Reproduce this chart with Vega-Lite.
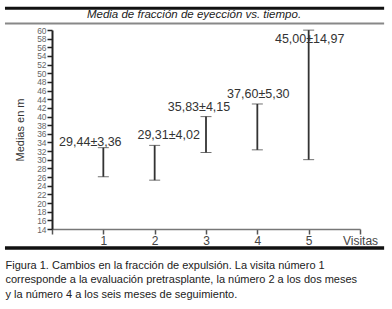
{
  "$schema": "https://vega.github.io/schema/vega-lite/v6.json",
  "width": 308,
  "height": 199,
  "autosize": "none",
  "padding": {"left": 52, "top": 30, "right": 32, "bottom": 80},
  "background": "white",
  "config": {
    "view": {"stroke": null},
    "font": "Liberation Sans",
    "axis": {"labelOverlap": false, "labelBound": false, "labelFlush": false}
  },
  "title": {
    "text": "Media de fracción de eyección vs. tiempo.",
    "font": "Liberation Sans",
    "fontSize": 11.5,
    "fontStyle": "italic",
    "fontWeight": "normal",
    "color": "#222",
    "anchor": "middle",
    "dx": -12,
    "offset": -13.5
  },
  "data": {
    "values": [
      {"visit": 1, "mean": 29.44, "sd": 3.36},
      {"visit": 2, "mean": 29.31, "sd": 4.02},
      {"visit": 3, "mean": 35.83, "sd": 4.15},
      {"visit": 4, "mean": 37.60, "sd": 5.30},
      {"visit": 5, "mean": 45.00, "sd": 14.97}
    ]
  },
  "transform": [
    {"calculate": "replace(format(datum.mean, '.2f'), '.', ',') + '±' + replace(format(datum.sd, '.2f'), '.', ',')", "as": "label"},
    {"calculate": "min(datum.mean + datum.sd, 55.5)", "as": "labelY"}
  ],
  "layer": [
    {
      "mark": {"type": "errorbar", "ticks": {"size": 11, "color": "#333", "strokeWidth": 1.8}, "rule": {"color": "#333", "strokeWidth": 1.8}},
      "encoding": {
        "x": {
          "field": "visit", "type": "quantitative",
          "scale": {"domain": [0, 6], "nice": false, "zero": false},
          "axis": {
            "values": [0, 1, 2, 3, 4, 5, 6],
            "labelExpr": "datum.value == 6 ? 'Visitas' : (datum.value == 0 ? '' : datum.label)",
            "grid": false,
            "domainColor": "#777",
            "domainWidth": 1.5,
            "tickColor": "#555",
            "tickWidth": 1.5,
            "tickSize": 5,
            "labelFont": "Liberation Sans",
            "labelFontSize": 12,
            "labelColor": "#444",
            "labelPadding": 1,
            "title": [
              "Figura 1.  Cambios en la fracción de expulsión. La visita número 1",
              "corresponde a la evaluación pretrasplante, la número 2 a los dos meses",
              "y la número 4 a los seis meses de seguimiento."
            ],
            "titleFont": "Liberation Sans",
            "titleFontSize": 11,
            "titleFontWeight": "normal",
            "titleColor": "#222",
            "titleAnchor": "start",
            "titleAlign": "left",
            "titleBaseline": "top",
            "titleX": -47,
            "titleY": 30,
            "titleLineHeight": 14.5
          }
        },
        "y": {
          "field": "mean", "type": "quantitative",
          "scale": {"domain": [14, 60], "nice": false, "zero": false},
          "axis": {
            "tickCount": 24,
            "grid": false,
            "domainColor": "#222",
            "domainWidth": 2,
            "tickColor": "#222",
            "tickWidth": 1.5,
            "tickSize": 5,
            "labelFont": "Liberation Sans",
            "labelFontSize": 8.4,
            "labelColor": "#666",
            "labelPadding": 1,
            "title": "Medias en m",
            "titleFont": "Liberation Sans",
            "titleFontSize": 11,
            "titleFontWeight": "normal",
            "titleColor": "#333",
            "titlePadding": 11
          }
        },
        "yError": {"field": "sd"}
      }
    },
    {
      "transform": [{"filter": "datum.visit == 1"}],
      "mark": {"type": "text", "fontSize": 12.5, "color": "#333", "dx": -13, "dy": -6, "baseline": "middle"},
      "encoding": {
        "x": {"field": "visit", "type": "quantitative"},
        "y": {"field": "labelY", "type": "quantitative"},
        "text": {"field": "label"}
      }
    },
    {
      "transform": [{"filter": "datum.visit == 2"}],
      "mark": {"type": "text", "fontSize": 12.5, "color": "#333", "dx": 14, "dy": -10, "baseline": "middle"},
      "encoding": {
        "x": {"field": "visit", "type": "quantitative"},
        "y": {"field": "labelY", "type": "quantitative"},
        "text": {"field": "label"}
      }
    },
    {
      "transform": [{"filter": "datum.visit == 3"}],
      "mark": {"type": "text", "fontSize": 12.5, "color": "#333", "dx": -7, "dy": -10, "baseline": "middle"},
      "encoding": {
        "x": {"field": "visit", "type": "quantitative"},
        "y": {"field": "labelY", "type": "quantitative"},
        "text": {"field": "label"}
      }
    },
    {
      "transform": [{"filter": "datum.visit >= 4"}],
      "mark": {"type": "text", "fontSize": 12.5, "color": "#333", "dx": 1, "dy": -10, "baseline": "middle"},
      "encoding": {
        "x": {"field": "visit", "type": "quantitative"},
        "y": {"field": "labelY", "type": "quantitative"},
        "text": {"field": "label"}
      }
    },
    {
      "data": {"values": [{"y": 65.0, "x0": -0.916, "x1": 6.47}]},
      "mark": {"type": "rule", "color": "#111", "strokeWidth": 3},
      "encoding": {
        "x": {"field": "x0", "type": "quantitative"},
        "x2": {"field": "x1"},
        "y": {"field": "y", "type": "quantitative"}
      }
    },
    {
      "data": {"values": [{"y": 61.5, "x0": -0.916, "x1": 6.47}]},
      "mark": {"type": "rule", "color": "#888", "strokeWidth": 2},
      "encoding": {
        "x": {"field": "x0", "type": "quantitative"},
        "x2": {"field": "x1"},
        "y": {"field": "y", "type": "quantitative"}
      }
    },
    {
      "data": {"values": [{"y": 9.6, "x0": -0.916, "x1": 6.47}]},
      "mark": {"type": "rule", "color": "#111", "strokeWidth": 3.5},
      "encoding": {
        "x": {"field": "x0", "type": "quantitative"},
        "x2": {"field": "x1"},
        "y": {"field": "y", "type": "quantitative"}
      }
    }
  ]
}
